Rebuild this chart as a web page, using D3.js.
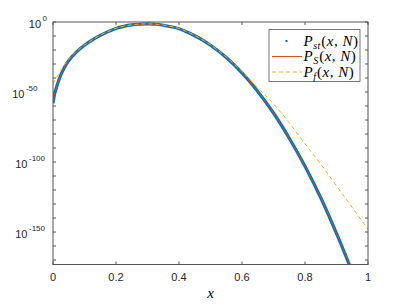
<!DOCTYPE html>
<html>
<head>
<meta charset="utf-8">
<script src="https://cdn.jsdelivr.net/npm/d3@7"></script>
<style>
  body { margin: 0; background: #fff; }
  svg { display: block; }
</style>
</head>
<body>
<svg id="chart"></svg>
<script>
// data (y values are log10 of the probability)
var xSt = [0, 0.005, 0.01, 0.02, 0.03, 0.04, 0.05, 0.075, 0.1, 0.125, 0.15, 0.175, 0.2, 0.225, 0.25, 0.275, 0.3,
           0.325, 0.35, 0.375, 0.4, 0.425, 0.45, 0.475, 0.5, 0.55, 0.6, 0.65, 0.7, 0.75, 0.8, 0.85, 0.9, 0.95];
var logPst = [-58, -51.5, -47.5, -40.5, -35.3, -31, -27.5, -21.3, -16.6, -12.8, -9.6, -6.9, -4.6, -3.1, -2.1, -1.6, -1.4,
              -1.6, -2.3, -3.4, -4.8, -7.1, -9.8, -12.9, -16.6, -25.4, -36.4, -49.6, -65, -83, -103, -125.5, -151, -178.5];
var logPS = [-58, -51.5, -47.5, -40.5, -35.3, -31, -27.5, -21.3, -16.6, -12.8, -9.6, -6.9, -4.6, -3.1, -2.1, -1.6, -1.4,
             -1.6, -2.3, -3.4, -4.8, -7.1, -9.8, -12.9, -16.6, -25.4, -36.4, -49.6, -65, -83, -103, -125.5, -151, -178.5];
var xF = [0, 0.025, 0.05, 0.075, 0.1, 0.15, 0.2, 0.25, 0.3, 0.35, 0.4, 0.45, 0.5, 0.55, 0.6,
          0.65, 0.7, 0.75, 0.8, 0.85, 0.9, 0.95, 1];
var logPf = [-44, -34.5, -26.3, -20.9, -16.5, -9.4, -4.5, -2.0, -1.3, -2.2, -4.6, -9.6, -16.3, -25, -35.3,
             -47, -58.5, -72, -87, -101.5, -117, -132.5, -148];

var xTicks = [0, 0.2, 0.4, 0.6, 0.8, 1];
var yTicks = [0, -50, -100, -150];
var yLabelRight = [47, 37.5, 45, 45];
var yMinorTicks = d3.range(0, -171, -10);

// set the dimensions of the graph
var W = 407, H = 305;
var margin = {top: 22, right: 39, bottom: 40.5, left: 53},
    width = W - margin.left - margin.right,
    height = H - margin.top - margin.bottom;

var svg = d3.select("#chart")
    .attr("width", W)
    .attr("height", H)
    .append("g")
    .attr("transform", "translate(" + margin.left + "," + margin.top + ")");

var x = d3.scaleLinear().domain([0, 1]).range([0, width]);
var y = d3.scaleLinear().domain([-173.2, 0]).range([height, 0]);

var axisColor = "#262626";
var tickLen = 3;

svg.append("defs").append("clipPath")
    .attr("id", "clip")
    .append("rect")
    .attr("width", width)
    .attr("height", height);

// curves
var line = d3.line().x(d => x(d[0])).y(d => y(d[1])).curve(d3.curveMonotoneX);
var plot = svg.append("g").attr("clip-path", "url(#clip)");

// P_st: dense dots, they look like a thick band
plot.append("path")
    .datum(d3.zip(xSt, logPst))
    .attr("d", line)
    .attr("fill", "none")
    .attr("stroke", "#0072BD")
    .attr("stroke-width", 3.2);

plot.append("path")
    .datum(d3.zip(xSt, logPS))
    .attr("d", line)
    .attr("fill", "none")
    .attr("stroke", "#D95319")
    .attr("stroke-width", 0.8);

plot.append("path")
    .datum(d3.zip(xF, logPf))
    .attr("d", line)
    .attr("fill", "none")
    .attr("stroke", "#EDB120")
    .attr("stroke-width", 1)
    .attr("stroke-dasharray", "4,3");

// box and ticks
var axes = svg.append("g").attr("stroke", "#555").attr("stroke-width", 1);
axes.append("rect")
    .attr("width", width)
    .attr("height", height)
    .attr("fill", "none");

xTicks.forEach(function(t) {
    axes.append("line").attr("x1", x(t)).attr("x2", x(t)).attr("y1", height).attr("y2", height - tickLen);
    axes.append("line").attr("x1", x(t)).attr("x2", x(t)).attr("y1", 0).attr("y2", tickLen);
});
yMinorTicks.forEach(function(t) {
    axes.append("line").attr("x1", 0).attr("x2", tickLen).attr("y1", y(t)).attr("y2", y(t));
    axes.append("line").attr("x1", width).attr("x2", width - tickLen).attr("y1", y(t)).attr("y2", y(t));
});

// x tick labels
svg.selectAll(".xlab")
    .data(xTicks)
    .enter().append("text")
    .attr("x", d => x(d))
    .attr("y", height + 16)
    .attr("text-anchor", "middle")
    .style("font-family", "Liberation Sans, Arial, sans-serif")
    .style("font-size", "11px")
    .attr("fill", axisColor)
    .text(d => d);

// y tick labels, 10^k
var yl = svg.selectAll(".ylab")
    .data(yTicks)
    .enter().append("text")
    .attr("x", (d, i) => yLabelRight[i] - margin.left)
    .attr("y", d => y(d) + 5.5)
    .attr("text-anchor", "end")
    .style("font-family", "Liberation Sans, Arial, sans-serif")
    .style("font-size", "11px")
    .attr("fill", axisColor);
yl.append("tspan").text("10");
yl.append("tspan")
    .attr("dx", 1.5)
    .attr("dy", -6.5)
    .style("font-size", "8px")
    .text(d => d);

// x axis label
svg.append("text")
    .attr("x", x(0.5))
    .attr("y", height + 33)
    .attr("text-anchor", "middle")
    .style("font-family", "Liberation Serif, DejaVu Serif, serif")
    .style("font-style", "italic")
    .style("font-size", "15px")
    .text("x");

// legend
var lg = svg.append("g").attr("transform", "translate(" + (269 - margin.left) + "," + (29.5 - margin.top) + ")");
lg.append("rect")
    .attr("width", 91)
    .attr("height", 52)
    .attr("fill", "#fff")
    .attr("stroke", "#555")
    .attr("stroke-width", 0.8);

var entries = [
    {sub: "st", kind: "dot", color: "#0072BD"},
    {sub: "S", kind: "line", color: "#D95319"},
    {sub: "f", kind: "dash", color: "#EDB120"}
];
entries.forEach(function(e, i) {
    var cy = 11.5 + i * 15.5;
    if (e.kind == "dot") {
        lg.append("rect").attr("x", 16.5).attr("y", cy - 1).attr("width", 2).attr("height", 2).attr("fill", e.color);
    } else {
        lg.append("line")
            .attr("x1", 3).attr("x2", 33).attr("y1", cy).attr("y2", cy)
            .attr("stroke", e.color)
            .attr("stroke-width", 1)
            .attr("stroke-dasharray", e.kind == "dash" ? "4,3" : null);
    }
    var t = lg.append("text")
        .attr("x", 34.5)
        .attr("y", cy + 4.5)
        .style("font-family", "Liberation Serif, DejaVu Serif, serif")
        .style("font-size", "15px")
        .style("letter-spacing", "0.5px")
        .attr("fill", "#000");
    t.append("tspan").style("font-style", "italic").text("P");
    t.append("tspan").style("font-style", "italic").style("font-size", "10px").attr("dy", 3).text(e.sub);
    t.append("tspan").attr("dy", -3).attr("dx", 0.5).text("(");
    t.append("tspan").style("font-style", "italic").text("x");
    t.append("tspan").text(", ");
    t.append("tspan").style("font-style", "italic").text("N");
    t.append("tspan").text(")");
});
</script>
</body>
</html>
